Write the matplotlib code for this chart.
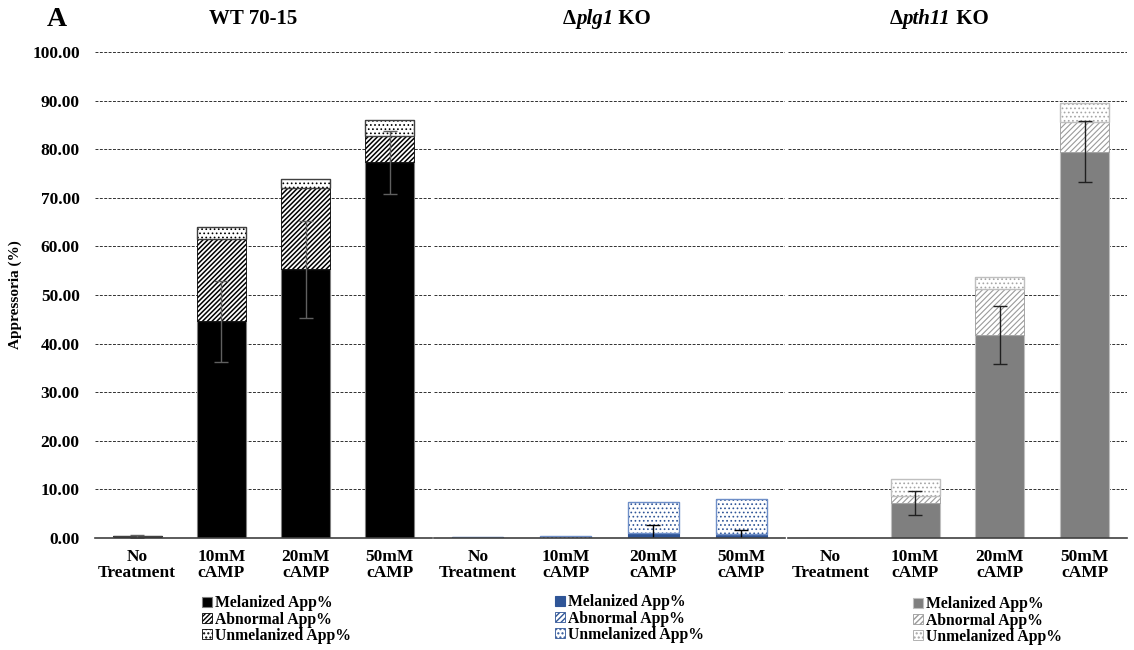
import numpy as np
import matplotlib
matplotlib.use("Agg")
import matplotlib.pyplot as plt
from matplotlib.offsetbox import TextArea, HPacker, AnnotationBbox

plt.rcParams["font.family"] = ["Liberation Serif", "DejaVu Serif"]
plt.rcParams["font.weight"] = "bold"

CATEGORIES = ["No\nTreatment", "10mM\ncAMP", "20mM\ncAMP", "50mM\ncAMP"]
SERIES = ["Melanized App%", "Abnormal App%", "Unmelanized App%"]
# title pieces: (text, italic?)
PANELS = [
    [("WT 70-15", False)],
    [("Δ", False), ("plg1", True), (" KO", False)],
    [("Δ", False), ("pth11", True), (" KO", False)],
]

# stacked segment heights (%)
wt_mel = [0.4, 44.6, 55.3, 77.3]
wt_abn = [0.0, 16.9, 16.7, 5.4]
wt_unm = [0.0, 2.5, 1.8, 3.3]
wt_err = [0.3, 8.3, 10.0, 6.5]

plg_mel = [0.3, 0.0, 1.0, 0.6]
plg_abn = [0.0, 0.0, 0.0, 0.3]
plg_unm = [0.0, 0.4, 6.5, 7.1]
plg_err = [0.0, 0.0, 1.7, 1.0]

pth_mel = [0.0, 7.2, 41.8, 79.5]
pth_abn = [0.0, 1.5, 9.5, 6.0]
pth_unm = [0.0, 3.4, 2.4, 4.0]
pth_err = [0.0, 2.4, 6.0, 6.3]

data = [
    (wt_mel, wt_abn, wt_unm, wt_err),
    (plg_mel, plg_abn, plg_unm, plg_err),
    (pth_mel, pth_abn, pth_unm, pth_err),
]

styles = [
    dict(mel="#000000", mel_edge="#7f7f7f", abn="#000000", unm="#000000", unm_edge="#404040",
         err="#606060", hlw=1.1, hatch="///////"),
    dict(mel="#2f5597", mel_edge="#2f5597", abn="#2f5597", unm="#2f5597", unm_edge="#6f8fc8",
         err="#000000", hlw=0.7, hatch="//////"),
    dict(mel="#7f7f7f", mel_edge="#bfbfbf", abn="#9a9a9a", unm="#a6a6a6", unm_edge="#bfbfbf",
         err="#202020", hlw=0.8, hatch="//////"),
]

W, H = 1134, 650
fig = plt.figure(figsize=(W / 100, H / 100), dpi=100)

# panel extents in pixels (left, right)
extents = [(95, 432), (434, 785), (788, 1127)]
bottom_px, top_px = 538, 52
legend_anchor = [(0.318, -0.118), (0.345, -0.116), (0.369, -0.12)]
title_x = [253, 607, 939]

x = np.arange(len(CATEGORIES))
bw = 0.58
TICK_FS = 12.5

for i, (l, r) in enumerate(extents):
    ax = fig.add_axes([l / W, 1 - bottom_px / H, (r - l) / W, (bottom_px - top_px) / H])
    mel, abn, unm, err = data[i]
    st = styles[i]
    mel = np.array(mel); abn = np.array(abn); unm = np.array(unm)

    ax.set_axisbelow(True)
    ax.yaxis.grid(True, linestyle=(0, (3, 1.5)), color="#303030", linewidth=0.7)

    with plt.rc_context({"hatch.linewidth": st["hlw"]}):
        b1 = ax.bar(x, mel, bw, color=st["mel"], edgecolor=st["mel_edge"], linewidth=0.8,
                    label=SERIES[0])
        b2 = ax.bar(x, abn, bw, bottom=mel, color="white", edgecolor=st["abn"],
                    hatch=st["hatch"], linewidth=0.6, label=SERIES[1])
    with plt.rc_context({"hatch.linewidth": 0.7}):
        b3 = ax.bar(x, unm, bw, bottom=mel + abn, color="white", edgecolor=st["unm"],
                    hatch="....", linewidth=0.6, label=SERIES[2])
    # outline of the unmelanized segment
    ax.bar(x, unm, bw, bottom=mel + abn, color="none", edgecolor=st["unm_edge"], linewidth=1.0)

    has_err = np.array(err) > 0
    ax.errorbar(x[has_err], mel[has_err], yerr=np.array(err)[has_err], fmt="none",
                ecolor=st["err"], elinewidth=1.0, capsize=5, capthick=1.0)

    ax.set_xlim(-0.5, 3.5)
    ax.set_ylim(0, 100)
    ax.set_yticks(np.arange(0, 101, 10))
    ax.set_xticks(x)
    ax.set_xticklabels(CATEGORIES, fontsize=TICK_FS, fontweight="bold", linespacing=1.0)
    ax.tick_params(axis="both", length=0)
    ax.tick_params(axis="x", pad=8)
    if i == 0:
        ax.set_yticklabels([f"{v:.2f}" for v in np.arange(0, 101, 10)], fontsize=TICK_FS,
                           fontweight="bold")
        ax.tick_params(axis="y", pad=11)
    else:
        ax.set_yticklabels([])
    for s in ["top", "right", "left"]:
        ax.spines[s].set_visible(False)
    ax.spines["bottom"].set_color("#404040")
    ax.spines["bottom"].set_linewidth(1.2)

    ax.legend(handles=[b1, b2, b3], loc="upper left", bbox_to_anchor=legend_anchor[i],
              frameon=False, handlelength=0.6, handleheight=0.6,
              handletextpad=0.2, labelspacing=0.02, borderaxespad=0, borderpad=0,
              prop={"weight": "bold", "size": 11.3})

    pieces = [TextArea(t, textprops=dict(fontsize=15, fontweight="bold",
                                         fontstyle="italic" if it else "normal"))
              for t, it in PANELS[i]]
    pack = HPacker(children=pieces, pad=0, sep=0, align="baseline")
    fig.add_artist(AnnotationBbox(pack, (title_x[i] / W, 1 - 19 / H), xycoords="figure fraction",
                                  frameon=False, box_alignment=(0.5, 0.5)))

fig.text(57 / W, 1 - 19 / H, "A", ha="center", va="center", fontsize=20, fontweight="bold")
fig.text(15 / W, 1 - 295 / H, "Appressoria (%)", rotation=90, ha="center", va="center",
         fontsize=11, fontweight="bold")

fig.savefig("out.png", dpi=100)
